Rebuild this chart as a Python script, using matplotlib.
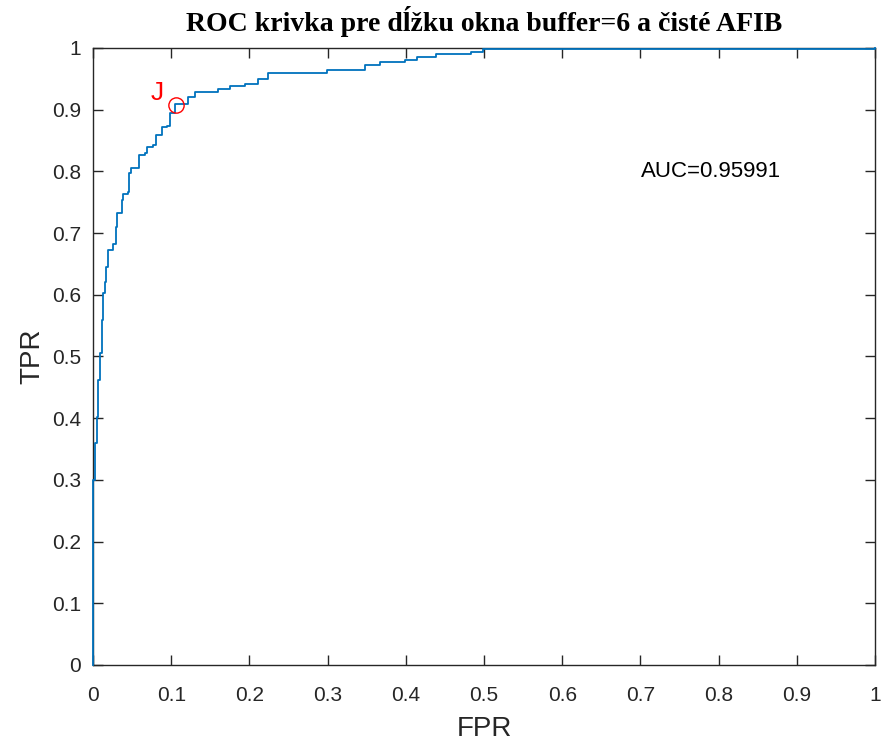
import matplotlib
matplotlib.use("Agg")
import matplotlib.pyplot as plt
import numpy as np

# ROC curve step vertices (FPR, TPR)
fpr = [0.0, 0.0, 0.002, 0.005, 0.007, 0.009, 0.011, 0.013, 0.015, 0.017, 0.0196, 0.026,
       0.026, 0.029, 0.031, 0.037, 0.037, 0.039, 0.045, 0.046, 0.049, 0.054, 0.059, 0.067,
       0.069, 0.077, 0.080, 0.088, 0.094, 0.098, 0.105, 0.118, 0.122, 0.130, 0.130, 0.147,
       0.160, 0.175, 0.194, 0.211, 0.224, 0.299, 0.348, 0.367, 0.399, 0.414, 0.439, 0.484,
       0.499, 1.0]
tpr = [0.0, 0.30, 0.36, 0.402, 0.462, 0.505, 0.559, 0.603, 0.621, 0.645, 0.673, 0.675,
       0.683, 0.710, 0.732, 0.737, 0.754, 0.764, 0.766, 0.797, 0.805, 0.806, 0.827, 0.829,
       0.840, 0.842, 0.859, 0.872, 0.874, 0.894, 0.909, 0.909, 0.921, 0.922, 0.929, 0.929,
       0.933, 0.938, 0.942, 0.949, 0.960, 0.964, 0.973, 0.977, 0.981, 0.986, 0.990, 0.994,
       0.998, 1.0]

opt_point = (0.106, 0.908)
auc_value = 0.95991
title_text = "ROC krivka pre dĺžku okna buffer=6 a čisté AFIB"
xticks = [0, 0.1, 0.2, 0.3, 0.4, 0.5, 0.6, 0.7, 0.8, 0.9, 1]
yticks = [0, 0.1, 0.2, 0.3, 0.4, 0.5, 0.6, 0.7, 0.8, 0.9, 1]
tick_labels = ["0", "0.1", "0.2", "0.3", "0.4", "0.5", "0.6", "0.7", "0.8", "0.9", "1"]

plt.rcParams['font.family'] = ['Liberation Sans', 'DejaVu Sans']

fig = plt.figure(figsize=(8.84, 7.46), dpi=100)
ax = fig.add_axes([0.1052, 0.1086, 0.9898 - 0.1052, 0.9357 - 0.1086])

# build step path (horizontal then vertical)
xs, ys = [fpr[0]], [tpr[0]]
for i in range(1, len(fpr)):
    xs.append(fpr[i]); ys.append(tpr[i - 1])
    xs.append(fpr[i]); ys.append(tpr[i])
ax.plot(xs, ys, color='#0072BD', lw=1.3, clip_on=False, zorder=5)

ax.plot([opt_point[0]], [opt_point[1]], marker='o', ms=11, mfc='none', mec='#FF0000',
        mew=1.0, zorder=6)
ax.text(0.074, 0.927, "J", color='#FF0000', fontsize=19, ha='left', va='center')
ax.text(0.701, 0.80, "AUC=%.5f" % auc_value, color='black', fontsize=16, ha='left', va='center')

ax.set_xlim(0, 1)
ax.set_ylim(0, 1)
ax.set_xticks(xticks)
ax.set_yticks(yticks)
ax.set_xticklabels(tick_labels)
ax.set_yticklabels(tick_labels)
ax.tick_params(direction='in', length=7, width=1, colors='#262626', labelsize=15,
               top=True, right=True)
ax.tick_params(axis='x', pad=15)
ax.tick_params(axis='y', pad=8.6)
for s in ax.spines.values():
    s.set_color('#262626')
    s.set_linewidth(1.0)

ax.set_xlabel("FPR", fontsize=20, color='#262626', labelpad=8)
ax.set_ylabel("TPR", fontsize=20, color='#262626', labelpad=4.4)
ax.set_title(title_text, fontsize=20, fontweight='bold', family=['Liberation Serif', 'DejaVu Serif'],
             color='black', pad=12)

fig.savefig("out.png", dpi=100)
